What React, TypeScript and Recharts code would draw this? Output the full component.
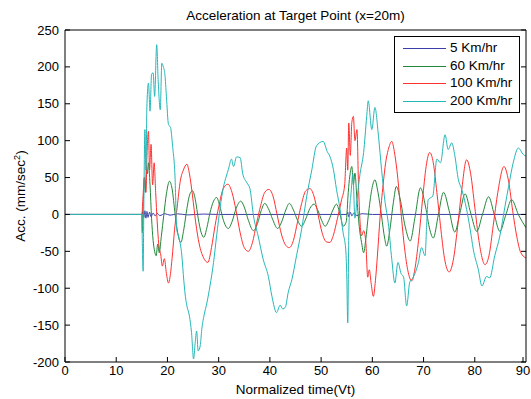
import React from 'react';
import { LineChart, Line, XAxis, YAxis } from 'recharts';

// time axis ticks and acceleration axis ticks
const xTicks = [0, 10, 20, 30, 40, 50, 60, 70, 80, 90];
const yTicks = [-200, -150, -100, -50, 0, 50, 100, 150, 200, 250];

// [normalized time, acc]
const speed5: number[][] = [
  [0, 0], [15, 0], [15.2, 4], [15.4, -4], [15.6, 5], [15.8, -5], [16, 4], [16.2, -4],
  [16.5, 3], [16.8, -3], [17.2, 2], [17.6, -2], [18, 1.5], [18.5, -1.5], [19.5, 1],
  [20.5, -1], [22, 0.8], [24, -0.6], [27, 0.5], [30, 0], [55, 0], [55.2, 3], [55.4, -3],
  [55.7, 3], [56, -2], [56.4, 2], [57, -1.5], [58, 1], [60, 0], [90, 0],
];

const speed60: number[][] = [
  [0, 0], [15, 0], [15.1, -25], [15.3, 20], [15.5, 50], [15.7, 30], [15.9, 65], [16.1, 55],
  [16.3, 70], [16.6, 40], [16.9, -5], [17.2, -35], [17.5, -50], [17.8, -56], [18.1, -40],
  [18.4, -52], [18.8, -30], [19.3, 0], [19.8, 28], [20.4, 45], [20.9, 35], [21.5, 0],
  [22, -25], [22.6, -38], [23.2, -20], [23.8, 8], [24.4, 28], [24.9, 32], [25.5, 18],
  [26, -5], [26.6, -25], [27.1, -31], [27.7, -18], [28.3, 2], [29, 18], [29.6, 23],
  [30.2, 12], [30.8, -5], [31.4, -16], [31.9, -19], [32.6, -10], [33.4, 8], [34.3, 18],
  [35, 10], [35.8, -8], [36.8, -22], [37.6, -12], [38.3, 5], [39, 15], [39.7, 8],
  [40.5, -6], [41.5, -19], [42.3, -10], [43.1, 6], [43.8, 15], [44.6, 6], [45.4, -8],
  [46.2, -16], [47, -6], [47.8, 8], [48.6, 14], [49.4, 5], [50.1, -8], [50.8, -16],
  [51.5, -8], [52.3, 6], [53, 14], [53.7, 0], [54.3, -16], [54.9, -10], [55.3, 30],
  [55.6, 52], [56, 65], [56.3, 40], [56.6, 56], [57, 20], [57.5, -20], [57.9, -38],
  [58.3, -52], [58.7, -35], [59.2, -2], [59.9, 34], [60.5, 47], [61.1, 30], [61.8, -2],
  [62.4, -32], [62.8, -43], [63.4, -22], [64.1, 16], [64.7, 38], [65.4, 22], [66.4, -16],
  [67.4, -36], [68.3, -5], [69.4, 36], [70.4, 10], [71.2, -20], [71.9, -32], [72.9, 0],
  [73.9, 30], [75, 5], [76.1, -24], [77.1, 2], [78.1, 28], [79.2, 2], [80.4, -23],
  [81.5, 0], [82.7, 24], [83.8, 0], [84.9, -23], [86, -2], [87.2, 20], [88.5, 0], [90, -18],
];

const speed100: number[][] = [
  [0, 0], [15, 0], [15.2, 20], [15.5, 50], [15.8, 30], [16, 80], [16.3, 113], [16.5, 60],
  [16.8, 95], [17.1, 40], [17.4, 70], [17.7, 30], [18, -10], [18.3, -40], [18.7, -55],
  [19, -70], [19.4, -60], [19.8, -80], [20.2, -93], [20.5, -85], [20.9, -60], [21.4, -20],
  [21.9, 10], [22.5, 45], [23.1, 60], [23.8, 68], [24.3, 55], [24.9, 25], [25.5, -10],
  [26.2, -40], [27, -58], [27.9, -65], [28.6, -45], [29.3, -15], [30, 10], [30.9, 35],
  [31.8, 41], [32.6, 30], [33.4, 5], [34.2, -25], [35, -45], [35.8, -50], [36.6, -38],
  [37.4, -12], [38.2, 12], [39, 30], [39.8, 34], [40.6, 25], [41.4, 0], [42.3, -28],
  [43.1, -42], [43.8, -45], [44.6, -35], [45.4, -10], [46.2, 15], [47, 32], [47.8, 35],
  [48.6, 25], [49.4, 0], [50.2, -25], [51, -37], [51.7, -38], [52.4, -28], [53.2, -5],
  [54, 20], [54.6, 40], [55, 90], [55.2, 60], [55.4, 124], [55.7, 80], [56, 125],
  [56.3, 133], [56.6, 100], [57, 115], [57.3, 40], [57.6, -10], [57.9, -29], [58.3, -22],
  [58.7, -35], [59.1, -85], [59.4, -75], [59.8, -95], [60.2, -111], [60.6, -90],
  [61, -55], [61.5, -5], [62.1, 40], [62.6, 70], [63.2, 90], [63.8, 99], [64.3, 85],
  [64.8, 60], [65.5, 10], [66.2, -40], [66.9, -75], [67.7, -90], [68.4, -70], [69.1, -30],
  [69.8, 20], [70.5, 65], [71.2, 84], [71.9, 70], [72.6, 30], [73.3, -15], [74.1, -60],
  [75, -78], [75.8, -62], [76.6, -20], [77.4, 30], [78.4, 74], [79.2, 55], [80, 10],
  [80.8, -35], [82, -68], [82.8, -55], [83.6, -15], [84.5, 30], [85.7, 65], [86.6, 45],
  [87.4, 5], [88.2, -30], [89, -52], [90, -59],
];

const speed200: number[][] = [
  [0, 0], [15, 0], [15.1, -40], [15.25, -77], [15.4, 20], [15.6, 115], [15.8, 60],
  [16, 150], [16.3, 178], [16.6, 140], [16.9, 190], [17.2, 192], [17.5, 160], [17.9, 230],
  [18.2, 180], [18.6, 142], [18.9, 205], [19.2, 200], [19.5, 190], [19.8, 160], [20.2, 122],
  [20.6, 118], [21, 93], [21.5, 47], [21.8, -20], [22.2, -30], [22.8, -55], [23.2, -90],
  [23.5, -111], [23.8, -124], [24.3, -138], [24.7, -160], [25.1, -196], [25.4, -175],
  [25.7, -158], [26, -185], [26.4, -178], [26.7, -156], [27.2, -135], [27.7, -120],
  [28.3, -97], [29, -65], [29.6, -29], [30.3, 10], [30.9, 36], [31.5, 52], [31.9, 61],
  [32.5, 75], [32.9, 65], [33.5, 78], [34.2, 77], [34.7, 55], [35.5, 43], [36.1, 35],
  [36.8, -2], [37.7, -29], [38.7, -61], [39.7, -84], [40.4, -111], [41.3, -133],
  [42, -123], [42.5, -128], [43, -126], [43.6, -105], [44.3, -88], [45.2, -56],
  [46.2, -20], [47.2, 25], [48.2, 61], [49.1, 93], [50.4, 99], [51.2, 85], [51.7, 79],
  [52.4, 61], [53, 34], [53.7, 7], [54.3, -25], [54.8, -47], [55, -80], [55.2, -147],
  [55.4, -30], [55.6, 10], [55.8, 25], [56.2, 55], [56.6, -5], [57, 20], [57.6, 55],
  [58.3, 84], [58.9, 133], [59.2, 154], [59.9, 115], [60.5, 145], [61.2, 106], [61.8, 61],
  [62.5, 16], [63.1, -11], [63.8, -61], [64.4, -93], [65, -65], [65.6, -80], [66.1, -85],
  [66.7, -124], [67.3, -92], [68, -85], [69, -65], [69.6, -45], [70.3, -56], [70.6, -15],
  [70.9, 20], [71.8, 25], [72.6, 75], [73.3, 70], [74.2, 108], [74.8, 88], [75.5, 97],
  [76.1, 80], [76.8, 47], [77.4, 35], [78.4, 7], [79.1, -20], [79.7, -47], [80.7, -75],
  [81.4, -97], [82.3, -84], [82.9, -86], [83.9, -56], [84.9, -29], [85.9, 11], [86.6, 38],
  [87.5, 70], [88.5, 90], [89.5, 81], [90, 79],
];

const seriesNames = ['5 Km/hr', '60 Km/hr', '100 Km/hr', '200 Km/hr'];
const seriesColors = ['#3a3fa8', '#23873c', '#ff3030', '#25b8b8'];

const toPoints = (arr: number[][]) => arr.map(([x, y]) => ({ x, y }));
const allSeries = [speed5, speed60, speed100, speed200].map(toPoints);

const FONT = '"Liberation Sans", Arial, sans-serif';

// MATLAB-style ticks: pointing into the plot box
const BottomTick = (props: any) => {
  const { x, y, payload } = props;
  return (
    <g>
      <line x1={x} x2={x} y1={y} y2={y - 5} stroke="#000" />
      <text x={x} y={y + 13} textAnchor="middle" fontSize={13} fill="#000" fontFamily={FONT}>
        {payload.value}
      </text>
    </g>
  );
};
const TopTick = (props: any) => {
  const { x, y } = props;
  return <line x1={x} x2={x} y1={y} y2={y + 5} stroke="#000" />;
};
const LeftTick = (props: any) => {
  const { x, y, payload } = props;
  return (
    <g>
      <line x1={x} x2={x + 5} y1={y} y2={y} stroke="#000" />
      <text x={x - 6} y={y + 4.5} textAnchor="end" fontSize={13} fill="#000" fontFamily={FONT}>
        {payload.value}
      </text>
    </g>
  );
};
const RightTick = (props: any) => {
  const { x, y } = props;
  return <line x1={x} x2={x - 5} y1={y} y2={y} stroke="#000" />;
};

const LegendBox = () => (
  <div
    style={{
      position: 'absolute',
      left: 394,
      top: 36,
      width: 126,
      height: 77,
      border: '1px solid #000',
      background: '#fff',
      boxSizing: 'border-box',
      fontSize: 13.5,
    }}
  >
    {seriesNames.map((name, i) => (
      <div key={name} style={{ position: 'absolute', left: 0, top: 3 + i * 17.7, height: 16, width: 124 }}>
        <div style={{ position: 'absolute', left: 8, top: 8, width: 43, height: 1, background: seriesColors[i] }} />
        <span style={{ position: 'absolute', left: 55, top: 0, lineHeight: '16px', color: '#000' }}>{name}</span>
      </div>
    ))}
  </div>
);

export default function App() {
  return (
    <div style={{ position: 'absolute', left: 0, top: 0, width: 531, height: 399, background: '#fff', fontFamily: FONT }}>
      <LineChart width={531} height={399} margin={{ top: 29, right: 4, bottom: 7, left: 15 }}>
        <XAxis
          dataKey="x"
          type="number"
          domain={[0, 90]}
          ticks={xTicks}
          height={30}
          tickSize={0}
          tickMargin={0}
          tick={(p: any) => <BottomTick {...p} />}
          axisLine={{ stroke: '#000' }}
          allowDataOverflow
        />
        <XAxis
          xAxisId="top"
          orientation="top"
          type="number"
          domain={[0, 90]}
          ticks={xTicks}
          height={1}
          tickSize={0}
          tickMargin={0}
          tick={(p: any) => <TopTick {...p} />}
          axisLine={{ stroke: '#000' }}
          allowDataOverflow
        />
        <YAxis
          type="number"
          domain={[-200, 250]}
          ticks={yTicks}
          width={50}
          tickSize={0}
          tickMargin={0}
          tick={(p: any) => <LeftTick {...p} />}
          axisLine={{ stroke: '#000' }}
          allowDataOverflow
        />
        <YAxis
          yAxisId="right"
          orientation="right"
          type="number"
          domain={[-200, 250]}
          ticks={yTicks}
          width={1}
          tickSize={0}
          tickMargin={0}
          tick={(p: any) => <RightTick {...p} />}
          axisLine={{ stroke: '#000' }}
          allowDataOverflow
        />
        {allSeries.map((data, i) => (
          <Line
            key={seriesNames[i]}
            data={data}
            dataKey="y"
            name={seriesNames[i]}
            type="monotone"
            stroke={seriesColors[i]}
            strokeWidth={1}
            dot={false}
            isAnimationActive={false}
          />
        ))}
      </LineChart>
      <LegendBox />
      <div style={{ position: 'absolute', left: 65, width: 461, top: 8, textAlign: 'center', fontSize: 13.5, color: '#000' }}>
        Acceleration at Target Point (x=20m)
      </div>
      <div style={{ position: 'absolute', left: 65, width: 461, top: 382, textAlign: 'center', fontSize: 13.5, color: '#000' }}>
        Normalized time(Vt)
      </div>
      <div
        style={{
          position: 'absolute',
          left: 21 - 60,
          top: 196 - 9,
          width: 120,
          height: 18,
          lineHeight: '18px',
          textAlign: 'center',
          fontSize: 13.5,
          color: '#000',
          transform: 'rotate(-90deg)',
          whiteSpace: 'nowrap',
        }}
      >
        Acc. (mm/sec<sup style={{ fontSize: 9, verticalAlign: 'super', lineHeight: 0 }}>2</sup>)
      </div>
    </div>
  );
}
